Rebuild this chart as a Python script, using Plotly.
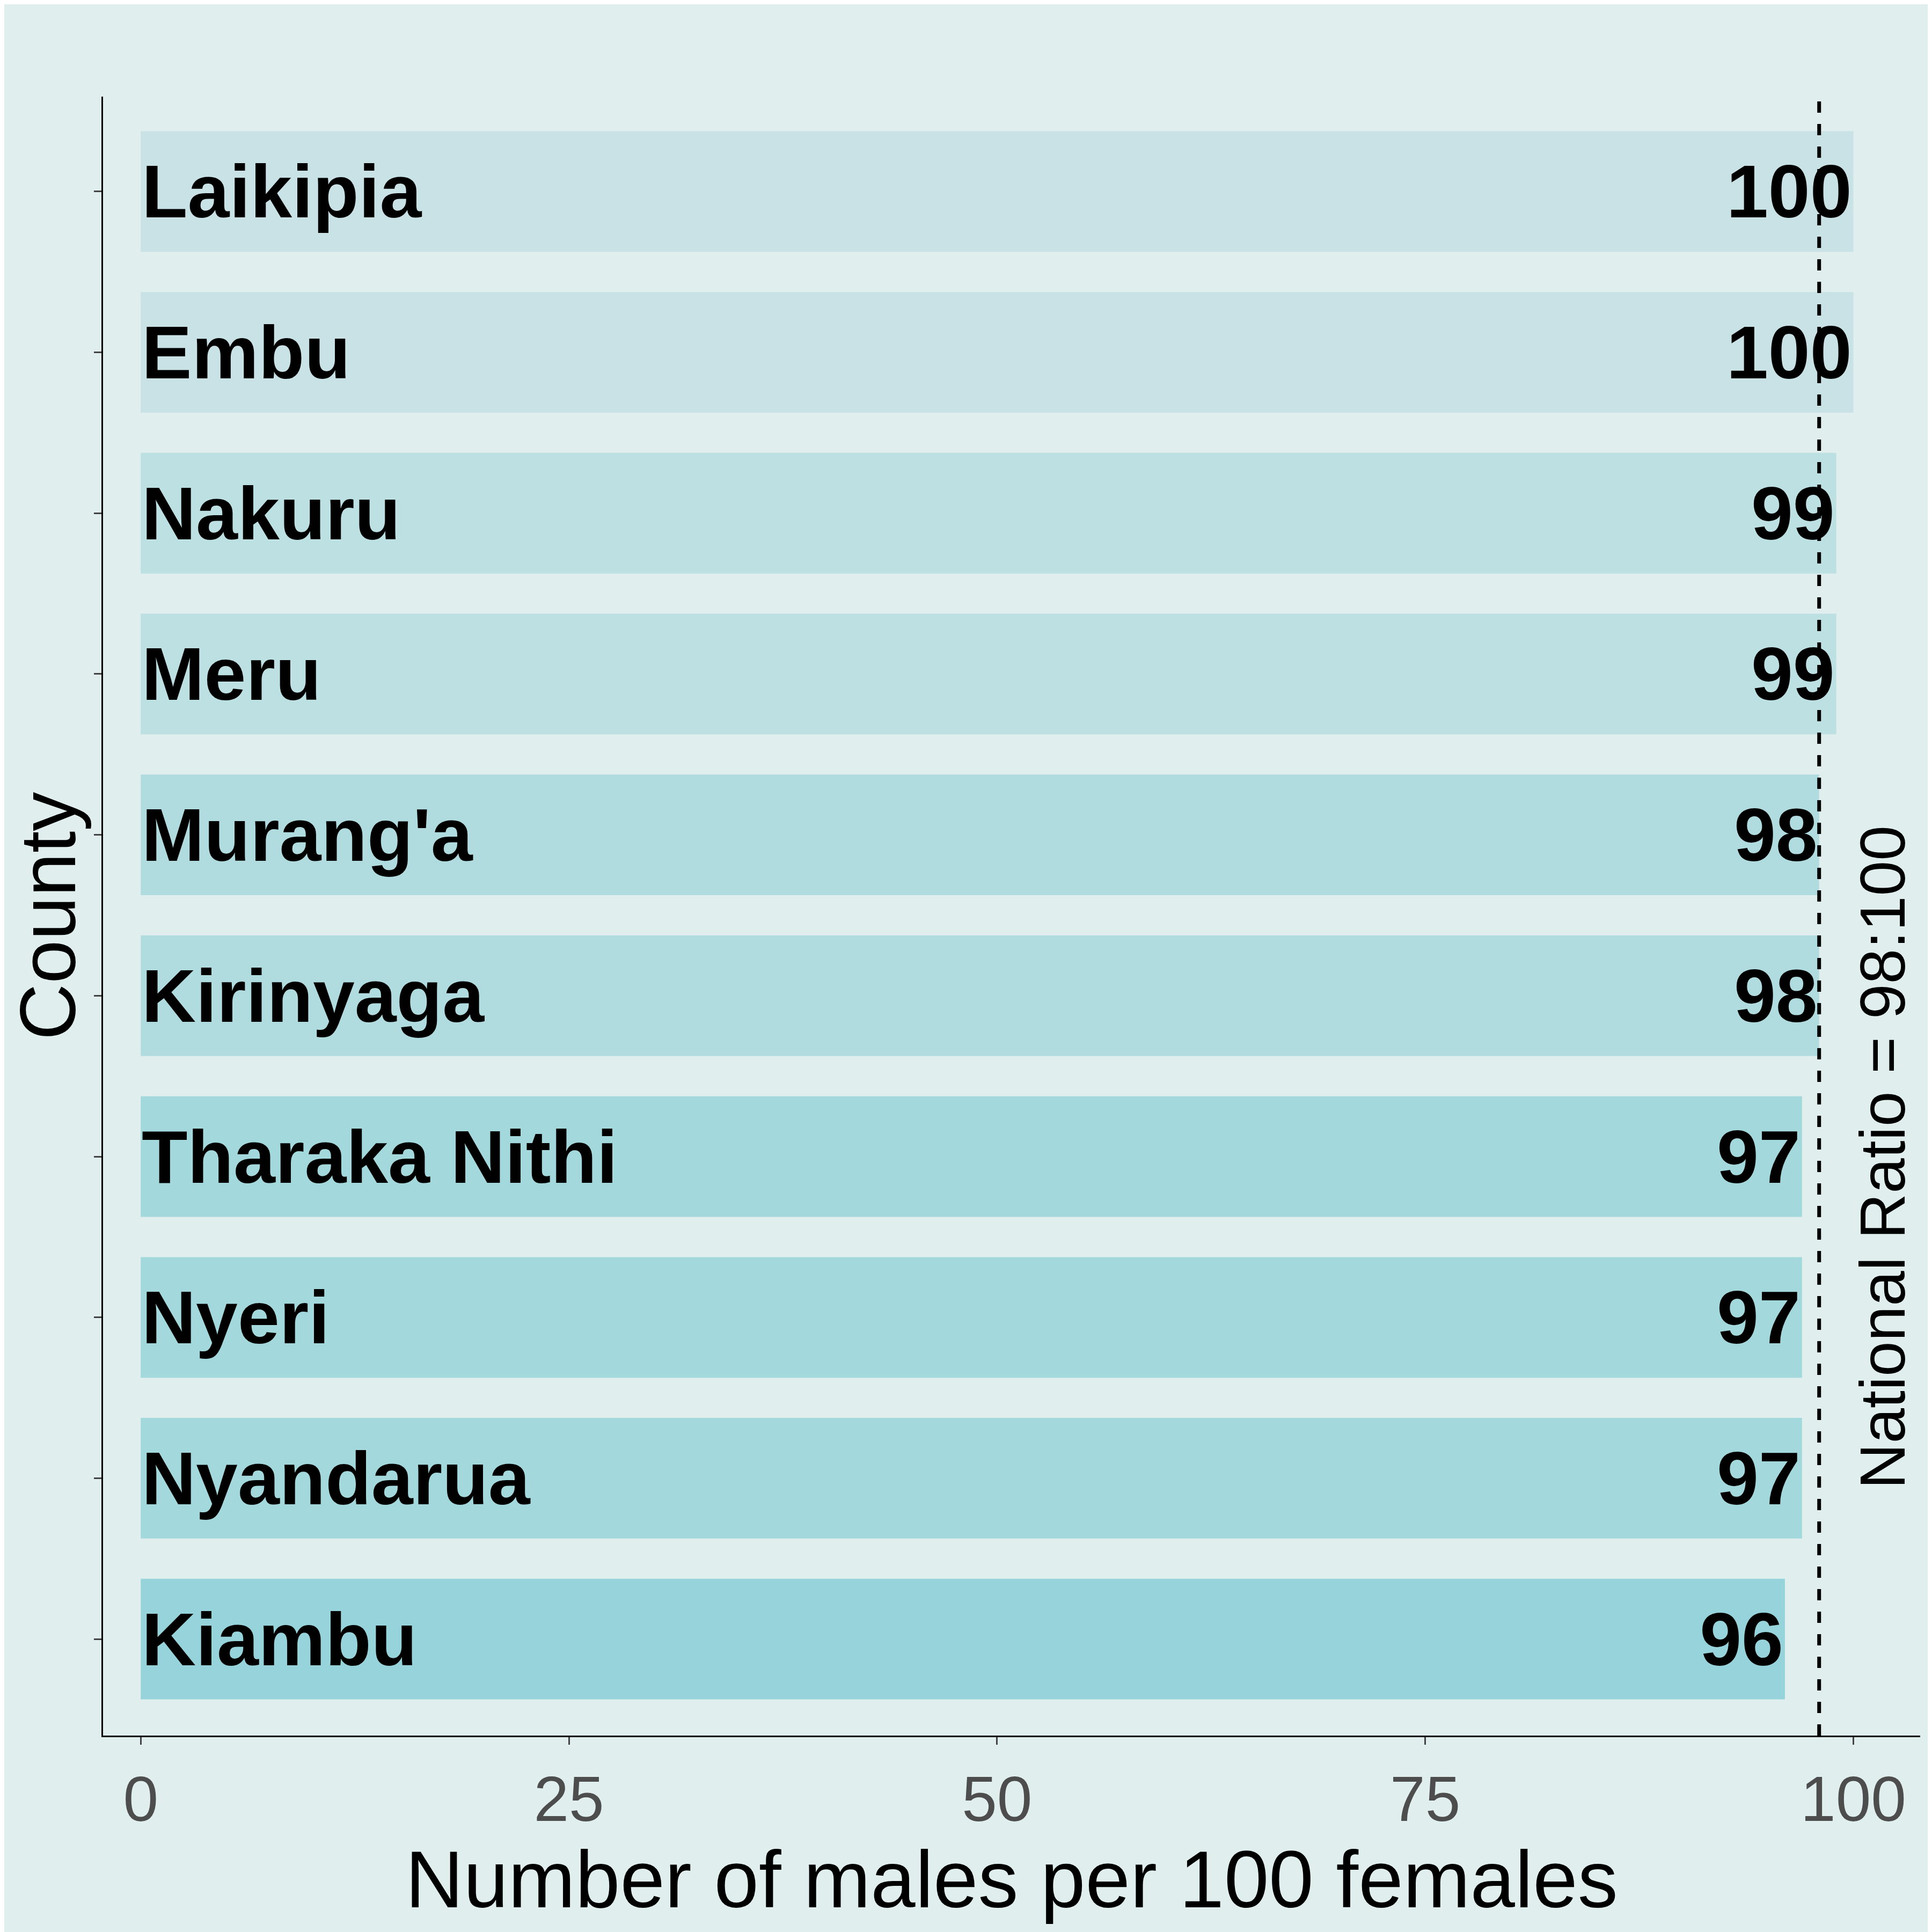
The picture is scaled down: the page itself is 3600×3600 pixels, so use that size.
import plotly.graph_objects as go

counties = ["Kiambu", "Nyandarua", "Nyeri", "Tharaka Nithi", "Kirinyaga", "Murang'a", "Meru", "Nakuru", "Embu", "Laikipia"]
values = [96, 97, 97, 97, 98, 98, 99, 99, 100, 100]
colors = ["#96d3da", "#a3d8dc", "#a3d8dc", "#a3d8dc", "#b0dbdf", "#b0dbdf", "#bde0e3", "#bde0e3", "#c9e2e6", "#c9e2e6"]
national = 98
bg = "#e0eeed"

fig = go.Figure(go.Bar(
    y=counties, x=values, orientation="h", marker=dict(color=colors, line=dict(width=0)),
    width=0.75, text=[str(v) for v in values], textposition="inside", insidetextanchor="end",
    textfont=dict(size=140, color="black", family="Liberation Sans", weight="bold"), textangle=0,
    cliponaxis=False))
for c in counties:
    fig.add_annotation(x=0, y=c, text="<b>%s</b>" % c, showarrow=False, xanchor="left",
                       font=dict(size=140, color="black", family="Liberation Sans"))
fig.add_shape(type="line", x0=national, x1=national, y0=0, y1=1, yref="paper",
              line=dict(color="black", width=7, dash="dash"))
fig.add_annotation(x=101.7, y=0.353, yref="paper", text="National Ratio = %d:100" % national,
                   textangle=-90, showarrow=False, font=dict(size=118, color="black", family="Liberation Sans"))
fig.update_layout(
    width=3600, height=3600, paper_bgcolor=bg, plot_bgcolor=bg, showlegend=False,
    margin=dict(l=184, r=30, t=172, b=374), font=dict(family="Liberation Sans"),
    xaxis=dict(range=[-2.2, 103.9], tickvals=[0, 25, 50, 75, 100], showgrid=False, zeroline=False,
               showline=True, linecolor="black", linewidth=3, ticks="outside", ticklen=14, tickwidth=3,
               tickfont=dict(size=118, color="#4d4d4d"),
               title=dict(text="Number of males per 100 females", font=dict(size=150, color="black"), standoff=5)),
    yaxis=dict(showticklabels=False, showgrid=False, zeroline=False, showline=True, linecolor="black",
               linewidth=3, ticks="outside", ticklen=14, tickwidth=3, range=[-0.6, 9.59],
               title=dict(text="County", font=dict(size=146, color="black"), standoff=0)),
)
fig.write_html("out.html")
